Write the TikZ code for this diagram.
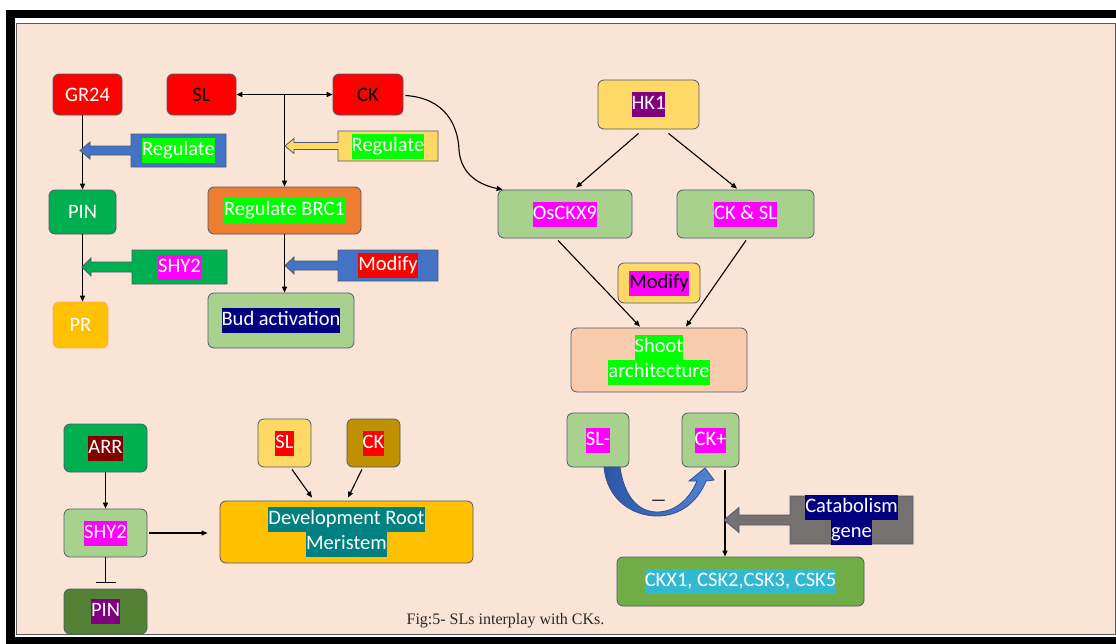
\documentclass[tikz,border=0pt]{standalone}
\usepackage{fontspec}
\setmainfont{Carlito}
\newfontfamily\capfont{Liberation Serif}
\usetikzlibrary{arrows.meta,calc}

% palette
\definecolor{peach}{RGB}{250,228,214}
\definecolor{edge}{RGB}{78,90,108}
\definecolor{frameline}{RGB}{90,90,90}
\definecolor{hlgreen}{RGB}{0,255,0}
\definecolor{hlmag}{RGB}{255,0,255}
\definecolor{hlnavy}{RGB}{0,0,128}
\definecolor{hlred}{RGB}{255,0,0}
\definecolor{hlpurple}{RGB}{128,0,128}
\definecolor{hlmaroon}{RGB}{128,0,0}
\definecolor{hlteal}{RGB}{0,128,128}
\definecolor{hlcyan}{RGB}{50,185,210}
\definecolor{cred}{RGB}{255,0,0}
\definecolor{cgreen}{RGB}{0,176,80}
\definecolor{cdkgreen}{RGB}{84,130,53}
\definecolor{cmidgreen}{RGB}{112,173,71}
\definecolor{clight}{RGB}{169,209,142}
\definecolor{cgold}{RGB}{255,192,0}
\definecolor{cyellow}{RGB}{255,217,102}
\definecolor{corange}{RGB}{237,125,49}
\definecolor{cpeach}{RGB}{248,203,173}
\definecolor{cbrown}{RGB}{191,144,0}
\definecolor{cblue}{RGB}{68,114,196}
\definecolor{cbluedark}{RGB}{47,82,143}
\definecolor{cbluedeep}{RGB}{45,85,165}
\definecolor{cbluelite}{RGB}{82,132,212}
\definecolor{cgray}{RGB}{118,113,113}
\definecolor{prline}{RGB}{244,177,131}
\definecolor{captext}{RGB}{40,40,40}

% highlighted text: a tight colour box the height of one line
\newcommand\hl[2]{{\setlength{\fboxsep}{0pt}\colorbox{#1}{\strut #2}}}

% rectangle with a left-pointing block arrow attached
% #1 fill, #2 x1, #3 y1, #4 x2, #5 y2, #6 tip x, #7 shaft half, #8 head half, #9 head length
\newcommand\blkarrow[9]{%
  \filldraw[fill=#1, draw=edge, line width=0.8pt, line join=miter]
    (#6,{(#3+#5)/2}) -- ({#6+#9},{(#3+#5)/2-#8}) -- ({#6+#9},{(#3+#5)/2-#7})
    -- (#2,{(#3+#5)/2-#7}) -- (#2,#3) -- (#4,#3) -- (#4,#5) -- (#2,#5)
    -- (#2,{(#3+#5)/2+#7}) -- ({#6+#9},{(#3+#5)/2+#7}) -- ({#6+#9},{(#3+#5)/2+#8}) -- cycle;}

\tikzset{
  box/.style={draw=edge, line width=0.8pt, rounded corners=6pt, inner sep=0pt,
    text=white, align=center, font=\fontsize{20.5}{25}\selectfont},
  lbl/.style={inner sep=0pt, text=white, align=center, font=\fontsize{20.5}{25}\selectfont},
  conn/.style={line width=1.1pt, -{Triangle[length=6pt,width=5pt]}},
  biconn/.style={line width=1.1pt, {Triangle[length=6pt,width=5pt]}-{Triangle[length=6pt,width=5pt]}},
}

\begin{document}
\begin{tikzpicture}[x=1pt,y=-1pt]
\useasboundingbox (0,0) rectangle (1116,643);
% frame
\fill[white] (0,0) rectangle (1116,643);
\fill[black] (6,10) rectangle (1130,650);
\fill[white] (15,18) rectangle (1130,637);
\filldraw[fill=peach, draw=frameline, line width=1pt] (16.5,23.5) rectangle (1115,634.5);

% ---------- top left: GR24 / PIN / PR ----------
\node[box, fill=cred, minimum width=69pt, minimum height=41pt] (gr) at (87.5,94.5) {GR24};
\node[box, fill=cred, text=black, minimum width=69pt, minimum height=41pt] (slt) at (201.5,94.5) {SL};
\node[box, fill=cred, text=black, minimum width=70pt, minimum height=41pt] (ckt) at (368,94.5) {CK};
\node[box, fill=cgreen, minimum width=67pt, minimum height=44pt] (pin) at (82.5,212) {PIN};
\node[box, fill=cgold, draw=prline, minimum width=55pt, minimum height=46pt] (pr) at (80.5,325) {PR};
\node[box, fill=corange, minimum width=153pt, minimum height=47pt] (brc) at (284.5,210.5) {\hl{hlgreen}{Regulate BRC1}};
\node[box, fill=clight, minimum width=146pt, minimum height=55pt] (bud) at (281,320.5) {\hl{hlnavy}{Bud activation}};

\draw[conn] (gr.south -| pin.north) -- (pin.north);
\draw[conn] (pin.south) -- (pin.south |- pr.north);
\draw[biconn] (slt.east) -- (ckt.west);
\coordinate (mid) at ($(slt.east)!0.5!(ckt.west)$);
\draw[conn] (mid) -- (mid |- brc.north);
\draw[conn] (brc.south) -- (brc.south |- bud.north);

\blkarrow{cblue}{131}{134}{226}{167}{80}{4.5}{8.5}{10}
\node[lbl] (regl) at (178.5,150.5) {\hl{hlgreen}{Regulate}};
\blkarrow{cyellow}{338}{131}{438}{161}{285}{3.5}{7.5}{9}
\node[lbl] (regy) at (388,146) {\hl{hlgreen}{Regulate}};
\blkarrow{cgreen}{132}{250}{227}{284}{82}{5}{9}{9}
\node[lbl] (shya) at (179.5,267) {\hl{hlmag}{SHY2}};
\blkarrow{cblue}{338}{250}{438}{281}{285}{4.5}{8.5}{9}
\node[lbl] (moda) at (388,265.5) {\hl{hlred}{Modify}};

% ---------- top right: HK1 / shoot architecture ----------
\node[box, fill=cyellow, minimum width=101pt, minimum height=49pt] (hk) at (648.5,104.5) {\hl{hlpurple}{HK1}};
\node[box, fill=clight, minimum width=134pt, minimum height=48pt] (osc) at (565,214) {\hl{hlmag}{OsCKX9}};
\node[box, fill=clight, minimum width=137pt, minimum height=48pt] (cksl) at (745.5,214) {\hl{hlmag}{CK \& SL}};
\node[box, fill=cyellow, text=black, minimum width=82pt, minimum height=40pt] (modm) at (659,283) {\hl{hlmag}{Modify}};
\node[box, fill=cpeach, minimum width=176pt, minimum height=64pt] (shoot) at (659,360) {\hl{hlgreen}{Shoot}\\\hl{hlgreen}{architecture}};

\draw[conn] ($(ckt.east)+(2,1)$) .. controls (445,98) and (458,125) .. (459,150)
  .. controls (461,175) and (480,185) .. ($(osc.north west)+(5,0)$);
\draw[conn] ($(hk.south)+(-10,4)$) -- ($(osc.north)+(11,-2)$);
\draw[conn] ($(hk.south)+(20,4)$) -- ($(cksl.north)+(-8.5,-1)$);
\draw[conn] ($(osc.south)+(-7,2)$) -- ($(shoot.north)+(-19,-1)$);
\draw[conn] ($(cksl.south)+(0.5,2)$) -- ($(shoot.north)+(27,-1)$);

% ---------- bottom left: root meristem ----------
\node[box, fill=cgreen, minimum width=83pt, minimum height=48pt] (arr) at (105.5,448) {\hl{hlmaroon}{ARR}};
\node[box, fill=clight, minimum width=83pt, minimum height=48pt] (shyb) at (105.5,533) {\hl{hlmag}{SHY2}};
\node[box, fill=cdkgreen, minimum width=83pt, minimum height=45pt] (pinb) at (105.5,611.5) {\hl{hlpurple}{PIN}};
\node[box, fill=cgold, minimum width=253pt, minimum height=62pt] (dev) at (346.5,532) {\hl{hlteal}{Development Root}\\\hl{hlteal}{Meristem}};
\node[box, fill=cyellow, minimum width=53pt, minimum height=48pt] (sls) at (284.5,443) {\hl{hlred}{SL}};
\node[box, fill=cbrown, minimum width=53pt, minimum height=48pt] (cks) at (373.5,443) {\hl{hlred}{CK}};

\draw[conn] (arr.south) -- (shyb.north);
\draw[line width=1.1pt, -{Bar[width=20pt,line width=1.1pt]}] (shyb.south) -- ($(pinb.north)+(0,-6)$);
\draw[conn] ($(shyb.east)+(2,0)$) -- ($(dev.west)+(-12,1)$);
\draw[conn] ($(sls.south)+(7.5,2)$) -- ($(dev.north)+(-34.5,-3)$);
\draw[conn] ($(cks.south)+(-11.5,2)$) -- ($(dev.north)+(1.5,-3)$);

% ---------- bottom right: SL- / CK+ ----------
\node[box, fill=clight, minimum width=62pt, minimum height=54pt] (slm) at (598,440) {\hl{hlmag}{SL-}};
\node[box, fill=clight, minimum width=57pt, minimum height=54pt] (ckp) at (710.5,440) {\hl{hlmag}{CK+}};
\node[box, fill=cmidgreen, minimum width=247pt, minimum height=49pt] (ckx) at (740.5,581.5) {\hl{hlcyan}{CKX1, CSK2,CSK3, CSK5}};

% curved block arrow from SL- round and up into CK+
\shadedraw[left color=cbluedeep, right color=cbluelite, draw=cbluedark, line width=0.8pt, line join=miter]
  (604,467) .. controls (607,501) and (634,516) .. (657,516)
  .. controls (681,516) and (698,501) .. (706,481)
  -- (714,480) -- (705,468) -- (689,481) -- (697,481)
  .. controls (690,498) and (676,512) .. (657,512)
  .. controls (638,512) and (624,496) .. (620,467) -- cycle;
\node[font=\fontsize{17}{20}\selectfont] (minus) at (658.5,503) {—};

\coordinate (ckpout) at ($(ckp.south)+(14.5,3)$);
\draw[conn] (ckpout) -- (ckpout |- ckx.north);
\blkarrow{cgray}{790}{496}{913}{544}{724}{5}{12.5}{15}
\node[lbl] (cat) at (851.5,520) {\hl{hlnavy}{Catabolism}\\\hl{hlnavy}{gene}};

% caption
\node[font=\capfont\fontsize{16}{19}\selectfont, text=captext, inner sep=0pt] (cap) at (505.5,621) {Fig:5- SLs interplay with CKs.};
\end{tikzpicture}
\end{document}
